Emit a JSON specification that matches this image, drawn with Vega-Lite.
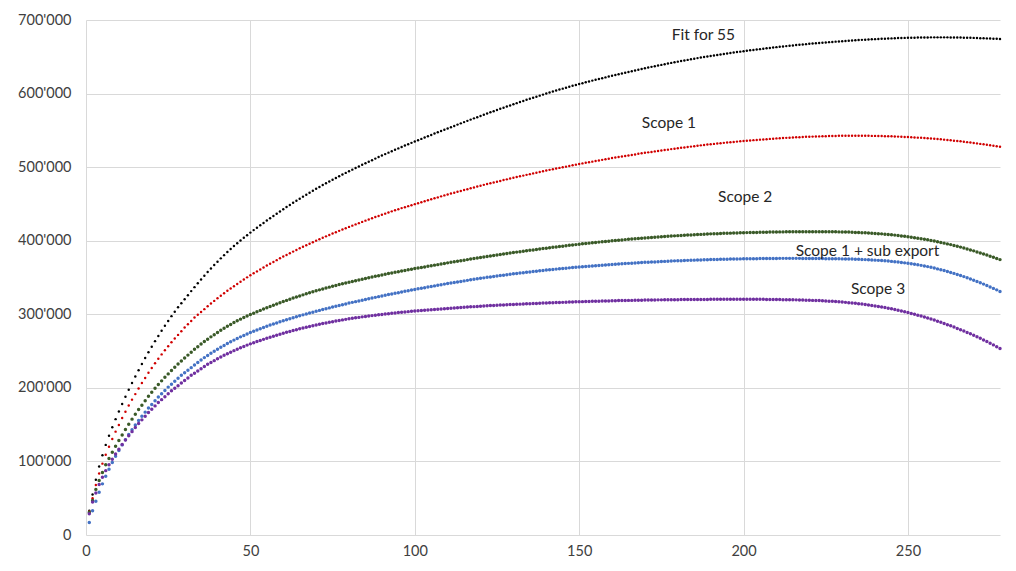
{
"$schema": "https://vega.github.io/schema/vega-lite/v6.json",
"width": 914, "height": 515,
"autosize": {"type": "none"},
"padding": {"left": 86, "top": 20, "right": 16, "bottom": 36},
"background": "white",
"config": {"view": {"stroke": null}, "font": "Lato",
 "axis": {"grid": true, "gridColor": "#d9d9d9", "gridWidth": 1, "domain": false, "ticks": false, "labelFont": "Lato", "labelFontSize": 14.5, "labelColor": "#404040", "title": null}},
"datasets": {
"labels": [
{"x":187.8,"y":680,"t":"Fit for 55"},
{"x":177.3,"y":560.5,"t":"Scope 1"},
{"x":200.5,"y":459.6,"t":"Scope 2"},
{"x":237.7,"y":385.7,"t":"Scope 1 + sub export"},
{"x":240.9,"y":334,"t":"Scope 3"}
],
"series": [
{"x":1,"fit":33,"s1":32,"s2":31,"sx":17,"s3":29},
{"x":2,"fit":55,"s1":50,"s2":47,"sx":33,"s3":45},
{"x":3,"fit":75,"s1":68,"s2":62,"sx":46,"s3":57},
{"x":4,"fit":93,"s1":83.5,"s2":74,"sx":58,"s3":68.5},
{"x":5,"fit":108.5,"s1":97,"s2":85,"sx":69.5,"s3":78.5},
{"x":6,"fit":122.5,"s1":109,"s2":95.5,"sx":80,"s3":87.5},
{"x":7,"fit":135,"s1":120,"s2":104,"sx":89.5,"s3":95.5},
{"x":8,"fit":146.5,"s1":130.5,"s2":112.5,"sx":98.5,"s3":103},
{"x":9,"fit":157.5,"s1":140.5,"s2":120.5,"sx":107,"s3":110},
{"x":10,"fit":168,"s1":149.5,"s2":128.5,"sx":115,"s3":116.5},
{"x":11,"fit":178,"s1":159,"s2":136,"sx":122.5,"s3":123},
{"x":12,"fit":188,"s1":167.5,"s2":143.5,"sx":129.5,"s3":129},
{"x":13,"fit":197.5,"s1":176,"s2":150.5,"sx":136.5,"s3":135},
{"x":14,"fit":206.5,"s1":184,"s2":157.5,"sx":143,"s3":140.5},
{"x":15,"fit":215.5,"s1":191.5,"s2":164,"sx":149.5,"s3":146},
{"x":16,"fit":224,"s1":199,"s2":170.5,"sx":155.5,"s3":151.5},
{"x":17,"fit":232.5,"s1":206.5,"s2":176.5,"sx":161.5,"s3":156.5},
{"x":18,"fit":240.5,"s1":213.5,"s2":182.5,"sx":167,"s3":161.5},
{"x":19,"fit":248.5,"s1":220.5,"s2":188.5,"sx":172.5,"s3":166.5},
{"x":20,"fit":256,"s1":227,"s2":194,"sx":177.5,"s3":171},
{"x":21,"fit":263.5,"s1":233.5,"s2":199.5,"sx":182.5,"s3":175.5},
{"x":22,"fit":270.5,"s1":239.5,"s2":204.5,"sx":187.5,"s3":180},
{"x":23,"fit":277.5,"s1":245.5,"s2":209.5,"sx":192,"s3":184},
{"x":24,"fit":284.5,"s1":251,"s2":214.5,"sx":196.5,"s3":188},
{"x":25,"fit":291,"s1":256.5,"s2":219,"sx":201,"s3":192},
{"x":26,"fit":297.5,"s1":262,"s2":223.5,"sx":205,"s3":196},
{"x":27,"fit":303.5,"s1":267,"s2":228,"sx":209,"s3":199.5},
{"x":28,"fit":309.5,"s1":272,"s2":232.5,"sx":213,"s3":203},
{"x":29,"fit":315,"s1":277,"s2":236.5,"sx":217,"s3":206.5},
{"x":30,"fit":320.5,"s1":282,"s2":240.5,"sx":220.5,"s3":210},
{"x":31,"fit":326,"s1":286.5,"s2":244.5,"sx":224,"s3":213.5},
{"x":32,"fit":331.5,"s1":291,"s2":248.5,"sx":227.5,"s3":217},
{"x":33,"fit":336.9,"s1":295.5,"s2":252.5,"sx":231,"s3":220},
{"x":34,"fit":342.2,"s1":299.3,"s2":256,"sx":234.5,"s3":223},
{"x":35,"fit":347.4,"s1":303.1,"s2":259.5,"sx":238,"s3":226},
{"x":36,"fit":352.5,"s1":307,"s2":262.9,"sx":241.1,"s3":229},
{"x":37,"fit":357.4,"s1":310.8,"s2":266.1,"sx":244,"s3":232},
{"x":38,"fit":362.2,"s1":314.6,"s2":269.3,"sx":246.9,"s3":234.5},
{"x":39,"fit":366.9,"s1":318.2,"s2":272.3,"sx":249.7,"s3":237},
{"x":40,"fit":371.5,"s1":321.8,"s2":275.3,"sx":252.5,"s3":239.5},
{"x":41,"fit":376,"s1":325.2,"s2":278.2,"sx":255.1,"s3":241.9},
{"x":42,"fit":380.4,"s1":328.6,"s2":280.9,"sx":257.7,"s3":244.2},
{"x":43,"fit":384.6,"s1":331.9,"s2":283.6,"sx":260.2,"s3":246.4},
{"x":44,"fit":388.7,"s1":335.1,"s2":286.2,"sx":262.6,"s3":248.5},
{"x":45,"fit":392.7,"s1":338.2,"s2":288.7,"sx":264.9,"s3":250.6},
{"x":46,"fit":396.6,"s1":341.3,"s2":291.1,"sx":267.1,"s3":252.6},
{"x":47,"fit":400.4,"s1":344.3,"s2":293.4,"sx":269.3,"s3":254.5},
{"x":48,"fit":404,"s1":347.3,"s2":295.5,"sx":271.3,"s3":256.3},
{"x":49,"fit":407.5,"s1":350.2,"s2":297.6,"sx":273.3,"s3":258.1},
{"x":50,"fit":411,"s1":353,"s2":299.6,"sx":275.2,"s3":259.8},
{"x":51,"fit":414.4,"s1":355.7,"s2":301.5,"sx":277,"s3":261.4},
{"x":52,"fit":417.7,"s1":358.3,"s2":303.4,"sx":278.7,"s3":262.9},
{"x":53,"fit":420.9,"s1":361,"s2":305.3,"sx":280.4,"s3":264.4},
{"x":54,"fit":424.2,"s1":363.6,"s2":307.1,"sx":282.1,"s3":265.9},
{"x":55,"fit":427.4,"s1":366.3,"s2":308.9,"sx":283.7,"s3":267.4},
{"x":56,"fit":430.5,"s1":368.7,"s2":310.7,"sx":285.3,"s3":268.8},
{"x":57,"fit":433.6,"s1":371.2,"s2":312.4,"sx":286.8,"s3":270.2},
{"x":58,"fit":436.7,"s1":373.6,"s2":314.1,"sx":288.3,"s3":271.6},
{"x":59,"fit":439.7,"s1":376.1,"s2":315.7,"sx":289.8,"s3":272.9},
{"x":60,"fit":442.7,"s1":378.5,"s2":317.4,"sx":291.2,"s3":274.2},
{"x":61,"fit":445.7,"s1":380.7,"s2":318.9,"sx":292.6,"s3":275.5},
{"x":62,"fit":448.6,"s1":383,"s2":320.5,"sx":294,"s3":276.7},
{"x":63,"fit":451.5,"s1":385.2,"s2":322,"sx":295.3,"s3":277.9},
{"x":64,"fit":454.3,"s1":387.5,"s2":323.5,"sx":296.6,"s3":279.1},
{"x":65,"fit":457.1,"s1":389.7,"s2":325,"sx":297.9,"s3":280.2},
{"x":66,"fit":459.9,"s1":391.8,"s2":326.4,"sx":299.2,"s3":281.3},
{"x":67,"fit":462.6,"s1":393.9,"s2":327.8,"sx":300.5,"s3":282.4},
{"x":68,"fit":465.3,"s1":396,"s2":329.2,"sx":301.7,"s3":283.5},
{"x":69,"fit":467.9,"s1":398,"s2":330.5,"sx":302.9,"s3":284.5},
{"x":70,"fit":470.5,"s1":400.1,"s2":331.9,"sx":304.1,"s3":285.5},
{"x":71,"fit":473.1,"s1":402,"s2":333.2,"sx":305.3,"s3":286.5},
{"x":72,"fit":475.6,"s1":404,"s2":334.4,"sx":306.4,"s3":287.4},
{"x":73,"fit":478.1,"s1":405.9,"s2":335.7,"sx":307.6,"s3":288.3},
{"x":74,"fit":480.5,"s1":407.9,"s2":336.9,"sx":308.7,"s3":289.2},
{"x":75,"fit":482.9,"s1":409.8,"s2":338.1,"sx":309.8,"s3":290},
{"x":76,"fit":485.3,"s1":411.6,"s2":339.2,"sx":310.9,"s3":290.8},
{"x":77,"fit":487.6,"s1":413.4,"s2":340.4,"sx":312,"s3":291.6},
{"x":78,"fit":489.9,"s1":415.2,"s2":341.5,"sx":313.1,"s3":292.4},
{"x":79,"fit":492.2,"s1":417,"s2":342.6,"sx":314.1,"s3":293.1},
{"x":80,"fit":494.4,"s1":418.8,"s2":343.6,"sx":315.2,"s3":293.8},
{"x":81,"fit":496.6,"s1":420.5,"s2":344.6,"sx":316.2,"s3":294.5},
{"x":82,"fit":498.8,"s1":422.2,"s2":345.7,"sx":317.2,"s3":295.2},
{"x":83,"fit":501,"s1":423.9,"s2":346.7,"sx":318.2,"s3":295.8},
{"x":84,"fit":503.2,"s1":425.6,"s2":347.7,"sx":319.2,"s3":296.5},
{"x":85,"fit":505.3,"s1":427.3,"s2":348.7,"sx":320.1,"s3":297.1},
{"x":86,"fit":507.4,"s1":428.9,"s2":349.6,"sx":321.1,"s3":297.6},
{"x":87,"fit":509.5,"s1":430.5,"s2":350.6,"sx":322.1,"s3":298.2},
{"x":88,"fit":511.6,"s1":432.1,"s2":351.6,"sx":323,"s3":298.8},
{"x":89,"fit":513.7,"s1":433.7,"s2":352.5,"sx":324,"s3":299.3},
{"x":90,"fit":515.7,"s1":435.3,"s2":353.5,"sx":325,"s3":299.8},
{"x":91,"fit":517.7,"s1":436.8,"s2":354.4,"sx":325.9,"s3":300.3},
{"x":92,"fit":519.7,"s1":438.3,"s2":355.3,"sx":326.8,"s3":300.8},
{"x":93,"fit":521.7,"s1":439.9,"s2":356.2,"sx":327.7,"s3":301.3},
{"x":94,"fit":523.6,"s1":441.4,"s2":357,"sx":328.5,"s3":301.8},
{"x":95,"fit":525.5,"s1":442.9,"s2":357.9,"sx":329.4,"s3":302.3},
{"x":96,"fit":527.4,"s1":444.3,"s2":358.8,"sx":330.3,"s3":302.7},
{"x":97,"fit":529.3,"s1":445.6,"s2":359.6,"sx":331.2,"s3":303.1},
{"x":98,"fit":531.2,"s1":447,"s2":360.4,"sx":332,"s3":303.6},
{"x":99,"fit":533,"s1":448.3,"s2":361.3,"sx":332.9,"s3":304},
{"x":100,"fit":534.8,"s1":449.7,"s2":362.1,"sx":333.8,"s3":304.4},
{"x":101,"fit":536.6,"s1":451,"s2":362.9,"sx":334.6,"s3":304.8},
{"x":102,"fit":538.4,"s1":452.3,"s2":363.6,"sx":335.4,"s3":305.2},
{"x":103,"fit":540.2,"s1":453.7,"s2":364.4,"sx":336.2,"s3":305.5},
{"x":104,"fit":542,"s1":455,"s2":365.2,"sx":337,"s3":305.9},
{"x":105,"fit":543.8,"s1":456.3,"s2":366,"sx":337.8,"s3":306.2},
{"x":106,"fit":545.6,"s1":457.6,"s2":366.8,"sx":338.6,"s3":306.6},
{"x":107,"fit":547.3,"s1":458.9,"s2":367.5,"sx":339.4,"s3":306.9},
{"x":108,"fit":549.1,"s1":460.3,"s2":368.3,"sx":340.2,"s3":307.3},
{"x":109,"fit":550.8,"s1":461.6,"s2":369.1,"sx":341,"s3":307.6},
{"x":110,"fit":552.6,"s1":462.9,"s2":369.9,"sx":341.8,"s3":308},
{"x":111,"fit":554.3,"s1":464.1,"s2":370.6,"sx":342.5,"s3":308.3},
{"x":112,"fit":556,"s1":465.3,"s2":371.4,"sx":343.3,"s3":308.6},
{"x":113,"fit":557.8,"s1":466.5,"s2":372.1,"sx":344,"s3":308.9},
{"x":114,"fit":559.5,"s1":467.7,"s2":372.8,"sx":344.7,"s3":309.2},
{"x":115,"fit":561.2,"s1":468.9,"s2":373.5,"sx":345.4,"s3":309.5},
{"x":116,"fit":562.9,"s1":470,"s2":374.3,"sx":346.1,"s3":309.8},
{"x":117,"fit":564.6,"s1":471.2,"s2":375,"sx":346.8,"s3":310.1},
{"x":118,"fit":566.3,"s1":472.4,"s2":375.7,"sx":347.5,"s3":310.4},
{"x":119,"fit":567.9,"s1":473.6,"s2":376.4,"sx":348.2,"s3":310.7},
{"x":120,"fit":569.6,"s1":474.8,"s2":377.2,"sx":348.9,"s3":311},
{"x":121,"fit":571.2,"s1":475.9,"s2":377.8,"sx":349.5,"s3":311.3},
{"x":122,"fit":572.9,"s1":477,"s2":378.5,"sx":350.2,"s3":311.5},
{"x":123,"fit":574.5,"s1":478,"s2":379.2,"sx":350.8,"s3":311.8},
{"x":124,"fit":576.1,"s1":479.1,"s2":379.9,"sx":351.4,"s3":312},
{"x":125,"fit":577.7,"s1":480.2,"s2":380.5,"sx":352,"s3":312.2},
{"x":126,"fit":579.3,"s1":481.3,"s2":381.2,"sx":352.6,"s3":312.5},
{"x":127,"fit":580.8,"s1":482.4,"s2":381.9,"sx":353.2,"s3":312.7},
{"x":128,"fit":582.4,"s1":483.4,"s2":382.5,"sx":353.8,"s3":313},
{"x":129,"fit":583.9,"s1":484.5,"s2":383.2,"sx":354.4,"s3":313.2},
{"x":130,"fit":585.5,"s1":485.6,"s2":383.9,"sx":355,"s3":313.4},
{"x":131,"fit":587,"s1":486.6,"s2":384.5,"sx":355.5,"s3":313.6},
{"x":132,"fit":588.5,"s1":487.6,"s2":385.1,"sx":356,"s3":313.8},
{"x":133,"fit":590,"s1":488.5,"s2":385.7,"sx":356.6,"s3":314},
{"x":134,"fit":591.5,"s1":489.5,"s2":386.3,"sx":357.1,"s3":314.2},
{"x":135,"fit":593,"s1":490.5,"s2":386.9,"sx":357.6,"s3":314.4},
{"x":136,"fit":594.4,"s1":491.5,"s2":387.5,"sx":358.1,"s3":314.6},
{"x":137,"fit":595.8,"s1":492.5,"s2":388.1,"sx":358.6,"s3":314.8},
{"x":138,"fit":597.2,"s1":493.4,"s2":388.7,"sx":359.1,"s3":315},
{"x":139,"fit":598.6,"s1":494.4,"s2":389.3,"sx":359.6,"s3":315.2},
{"x":140,"fit":600,"s1":495.4,"s2":389.9,"sx":360.1,"s3":315.4},
{"x":141,"fit":601.4,"s1":496.3,"s2":390.5,"sx":360.5,"s3":315.6},
{"x":142,"fit":602.7,"s1":497.2,"s2":391,"sx":360.9,"s3":315.7},
{"x":143,"fit":604.1,"s1":498.1,"s2":391.5,"sx":361.4,"s3":315.9},
{"x":144,"fit":605.4,"s1":499,"s2":392.1,"sx":361.8,"s3":316.1},
{"x":145,"fit":606.7,"s1":499.9,"s2":392.6,"sx":362.2,"s3":316.2},
{"x":146,"fit":608,"s1":500.7,"s2":393.1,"sx":362.6,"s3":316.4},
{"x":147,"fit":609.3,"s1":501.6,"s2":393.7,"sx":363.1,"s3":316.6},
{"x":148,"fit":610.5,"s1":502.5,"s2":394.2,"sx":363.5,"s3":316.7},
{"x":149,"fit":611.7,"s1":503.4,"s2":394.7,"sx":363.9,"s3":316.9},
{"x":150,"fit":612.9,"s1":504.3,"s2":395.3,"sx":364.3,"s3":317.1},
{"x":151,"fit":614.1,"s1":505.1,"s2":395.8,"sx":364.7,"s3":317.2},
{"x":152,"fit":615.3,"s1":505.9,"s2":396.2,"sx":365,"s3":317.3},
{"x":153,"fit":616.4,"s1":506.7,"s2":396.7,"sx":365.3,"s3":317.5},
{"x":154,"fit":617.6,"s1":507.5,"s2":397.2,"sx":365.7,"s3":317.6},
{"x":155,"fit":618.7,"s1":508.3,"s2":397.6,"sx":366,"s3":317.7},
{"x":156,"fit":619.8,"s1":509.1,"s2":398.1,"sx":366.4,"s3":317.8},
{"x":157,"fit":620.9,"s1":509.9,"s2":398.5,"sx":366.7,"s3":318},
{"x":158,"fit":622,"s1":510.7,"s2":399,"sx":367.1,"s3":318.1},
{"x":159,"fit":623.1,"s1":511.5,"s2":399.4,"sx":367.4,"s3":318.2},
{"x":160,"fit":624.2,"s1":512.3,"s2":399.9,"sx":367.8,"s3":318.4},
{"x":161,"fit":625.3,"s1":513,"s2":400.3,"sx":368.1,"s3":318.5},
{"x":162,"fit":626.3,"s1":513.7,"s2":400.7,"sx":368.3,"s3":318.6},
{"x":163,"fit":627.4,"s1":514.5,"s2":401.1,"sx":368.6,"s3":318.7},
{"x":164,"fit":628.4,"s1":515.2,"s2":401.5,"sx":368.9,"s3":318.8},
{"x":165,"fit":629.4,"s1":515.9,"s2":401.9,"sx":369.2,"s3":318.9},
{"x":166,"fit":630.4,"s1":516.6,"s2":402.2,"sx":369.5,"s3":318.9},
{"x":167,"fit":631.4,"s1":517.3,"s2":402.6,"sx":369.7,"s3":319},
{"x":168,"fit":632.4,"s1":518.1,"s2":403,"sx":370,"s3":319.1},
{"x":169,"fit":633.4,"s1":518.8,"s2":403.4,"sx":370.3,"s3":319.2},
{"x":170,"fit":634.4,"s1":519.5,"s2":403.8,"sx":370.6,"s3":319.3},
{"x":171,"fit":635.4,"s1":520.1,"s2":404.1,"sx":370.8,"s3":319.4},
{"x":172,"fit":636.3,"s1":520.7,"s2":404.5,"sx":371,"s3":319.4},
{"x":173,"fit":637.2,"s1":521.4,"s2":404.8,"sx":371.2,"s3":319.5},
{"x":174,"fit":638.1,"s1":522,"s2":405.1,"sx":371.5,"s3":319.6},
{"x":175,"fit":639,"s1":522.6,"s2":405.4,"sx":371.7,"s3":319.6},
{"x":176,"fit":639.9,"s1":523.2,"s2":405.7,"sx":371.9,"s3":319.7},
{"x":177,"fit":640.8,"s1":523.8,"s2":406,"sx":372.1,"s3":319.7},
{"x":178,"fit":641.7,"s1":524.5,"s2":406.3,"sx":372.3,"s3":319.8},
{"x":179,"fit":642.5,"s1":525.1,"s2":406.6,"sx":372.6,"s3":319.9},
{"x":180,"fit":643.4,"s1":525.7,"s2":406.9,"sx":372.8,"s3":319.9},
{"x":181,"fit":644.2,"s1":526.3,"s2":407.2,"sx":372.9,"s3":320},
{"x":182,"fit":645,"s1":526.8,"s2":407.4,"sx":373.1,"s3":320},
{"x":183,"fit":645.8,"s1":527.4,"s2":407.7,"sx":373.3,"s3":320},
{"x":184,"fit":646.6,"s1":527.9,"s2":407.9,"sx":373.4,"s3":320.1},
{"x":185,"fit":647.4,"s1":528.5,"s2":408.1,"sx":373.6,"s3":320.1},
{"x":186,"fit":648.2,"s1":529,"s2":408.4,"sx":373.8,"s3":320.1},
{"x":187,"fit":648.9,"s1":529.6,"s2":408.6,"sx":373.9,"s3":320.2},
{"x":188,"fit":649.7,"s1":530.1,"s2":408.8,"sx":374.1,"s3":320.2},
{"x":189,"fit":650.4,"s1":530.7,"s2":409,"sx":374.2,"s3":320.2},
{"x":190,"fit":651.1,"s1":531.2,"s2":409.3,"sx":374.4,"s3":320.3},
{"x":191,"fit":651.8,"s1":531.6,"s2":409.5,"sx":374.5,"s3":320.3},
{"x":192,"fit":652.5,"s1":532.1,"s2":409.6,"sx":374.6,"s3":320.3},
{"x":193,"fit":653.1,"s1":532.5,"s2":409.8,"sx":374.7,"s3":320.3},
{"x":194,"fit":653.8,"s1":533,"s2":410,"sx":374.8,"s3":320.3},
{"x":195,"fit":654.4,"s1":533.4,"s2":410.1,"sx":374.9,"s3":320.4},
{"x":196,"fit":655.1,"s1":533.8,"s2":410.3,"sx":375,"s3":320.4},
{"x":197,"fit":655.7,"s1":534.3,"s2":410.5,"sx":375.1,"s3":320.4},
{"x":198,"fit":656.4,"s1":534.7,"s2":410.6,"sx":375.2,"s3":320.4},
{"x":199,"fit":657,"s1":535.2,"s2":410.8,"sx":375.3,"s3":320.4},
{"x":200,"fit":657.6,"s1":535.6,"s2":410.9,"sx":375.4,"s3":320.4},
{"x":201,"fit":658.2,"s1":536,"s2":411,"sx":375.5,"s3":320.4},
{"x":202,"fit":658.8,"s1":536.3,"s2":411.1,"sx":375.5,"s3":320.4},
{"x":203,"fit":659.3,"s1":536.7,"s2":411.2,"sx":375.6,"s3":320.3},
{"x":204,"fit":659.9,"s1":537,"s2":411.3,"sx":375.6,"s3":320.3},
{"x":205,"fit":660.4,"s1":537.4,"s2":411.4,"sx":375.7,"s3":320.3},
{"x":206,"fit":661,"s1":537.7,"s2":411.5,"sx":375.7,"s3":320.3},
{"x":207,"fit":661.5,"s1":538,"s2":411.6,"sx":375.8,"s3":320.2},
{"x":208,"fit":662,"s1":538.4,"s2":411.7,"sx":375.8,"s3":320.2},
{"x":209,"fit":662.6,"s1":538.7,"s2":411.8,"sx":375.9,"s3":320.2},
{"x":210,"fit":663.1,"s1":539.1,"s2":411.9,"sx":375.9,"s3":320.1},
{"x":211,"fit":663.6,"s1":539.3,"s2":412,"sx":376,"s3":320},
{"x":212,"fit":664.1,"s1":539.6,"s2":412,"sx":376,"s3":319.9},
{"x":213,"fit":664.5,"s1":539.8,"s2":412.1,"sx":376,"s3":319.8},
{"x":214,"fit":665,"s1":540,"s2":412.1,"sx":376,"s3":319.8},
{"x":215,"fit":665.4,"s1":540.3,"s2":412.2,"sx":376,"s3":319.7},
{"x":216,"fit":665.9,"s1":540.5,"s2":412.2,"sx":376,"s3":319.6},
{"x":217,"fit":666.3,"s1":540.7,"s2":412.2,"sx":376,"s3":319.4},
{"x":218,"fit":666.8,"s1":540.9,"s2":412.3,"sx":375.9,"s3":319.3},
{"x":219,"fit":667.2,"s1":541.2,"s2":412.3,"sx":375.9,"s3":319.2},
{"x":220,"fit":667.6,"s1":541.4,"s2":412.3,"sx":375.9,"s3":319.1},
{"x":221,"fit":668,"s1":541.5,"s2":412.3,"sx":375.9,"s3":318.9},
{"x":222,"fit":668.4,"s1":541.7,"s2":412.3,"sx":375.8,"s3":318.8},
{"x":223,"fit":668.8,"s1":541.8,"s2":412.3,"sx":375.8,"s3":318.6},
{"x":224,"fit":669.1,"s1":541.9,"s2":412.3,"sx":375.7,"s3":318.3},
{"x":225,"fit":669.5,"s1":542.1,"s2":412.2,"sx":375.6,"s3":318.1},
{"x":226,"fit":669.9,"s1":542.2,"s2":412.2,"sx":375.6,"s3":317.8},
{"x":227,"fit":670.2,"s1":542.3,"s2":412.1,"sx":375.5,"s3":317.6},
{"x":228,"fit":670.6,"s1":542.4,"s2":412.1,"sx":375.4,"s3":317.3},
{"x":229,"fit":670.9,"s1":542.6,"s2":412,"sx":375.4,"s3":316.9},
{"x":230,"fit":671.2,"s1":542.7,"s2":411.9,"sx":375.3,"s3":316.6},
{"x":231,"fit":671.5,"s1":542.7,"s2":411.8,"sx":375.2,"s3":316.2},
{"x":232,"fit":671.8,"s1":542.7,"s2":411.7,"sx":375.1,"s3":315.8},
{"x":233,"fit":672.1,"s1":542.7,"s2":411.5,"sx":375,"s3":315.4},
{"x":234,"fit":672.4,"s1":542.7,"s2":411.3,"sx":374.8,"s3":314.9},
{"x":235,"fit":672.7,"s1":542.6,"s2":411.2,"sx":374.7,"s3":314.4},
{"x":236,"fit":673,"s1":542.6,"s2":410.9,"sx":374.5,"s3":313.9},
{"x":237,"fit":673.2,"s1":542.6,"s2":410.7,"sx":374.3,"s3":313.3},
{"x":238,"fit":673.5,"s1":542.6,"s2":410.5,"sx":374.1,"s3":312.7},
{"x":239,"fit":673.7,"s1":542.5,"s2":410.2,"sx":373.9,"s3":312},
{"x":240,"fit":674,"s1":542.5,"s2":409.9,"sx":373.6,"s3":311.4},
{"x":241,"fit":674.2,"s1":542.4,"s2":409.6,"sx":373.3,"s3":310.6},
{"x":242,"fit":674.4,"s1":542.3,"s2":409.3,"sx":373,"s3":309.9},
{"x":243,"fit":674.6,"s1":542.1,"s2":408.9,"sx":372.7,"s3":309.1},
{"x":244,"fit":674.8,"s1":542,"s2":408.5,"sx":372.3,"s3":308.2},
{"x":245,"fit":675,"s1":541.9,"s2":408,"sx":371.9,"s3":307.4},
{"x":246,"fit":675.2,"s1":541.7,"s2":407.6,"sx":371.5,"s3":306.4},
{"x":247,"fit":675.4,"s1":541.5,"s2":407.1,"sx":371,"s3":305.5},
{"x":248,"fit":675.5,"s1":541.3,"s2":406.5,"sx":370.5,"s3":304.5},
{"x":249,"fit":675.7,"s1":541.1,"s2":406,"sx":369.9,"s3":303.4},
{"x":250,"fit":675.8,"s1":540.9,"s2":405.4,"sx":369.4,"s3":302.4},
{"x":251,"fit":675.9,"s1":540.6,"s2":404.8,"sx":368.8,"s3":301.2},
{"x":252,"fit":676,"s1":540.4,"s2":404.1,"sx":368.1,"s3":300.1},
{"x":253,"fit":676.1,"s1":540.1,"s2":403.4,"sx":367.3,"s3":298.8},
{"x":254,"fit":676.2,"s1":539.9,"s2":402.7,"sx":366.5,"s3":297.6},
{"x":255,"fit":676.3,"s1":539.6,"s2":402,"sx":365.7,"s3":296.3},
{"x":256,"fit":676.3,"s1":539.2,"s2":401.2,"sx":364.8,"s3":294.9},
{"x":257,"fit":676.4,"s1":538.9,"s2":400.3,"sx":363.8,"s3":293.5},
{"x":258,"fit":676.4,"s1":538.5,"s2":399.5,"sx":362.8,"s3":292.1},
{"x":259,"fit":676.4,"s1":538.2,"s2":398.6,"sx":361.7,"s3":290.6},
{"x":260,"fit":676.4,"s1":537.8,"s2":397.7,"sx":360.6,"s3":289.1},
{"x":261,"fit":676.4,"s1":537.4,"s2":396.7,"sx":359.4,"s3":287.6},
{"x":262,"fit":676.4,"s1":536.9,"s2":395.7,"sx":358.2,"s3":285.9},
{"x":263,"fit":676.3,"s1":536.5,"s2":394.7,"sx":356.9,"s3":284.3},
{"x":264,"fit":676.3,"s1":536,"s2":393.6,"sx":355.6,"s3":282.6},
{"x":265,"fit":676.2,"s1":535.6,"s2":392.5,"sx":354.2,"s3":280.8},
{"x":266,"fit":676.1,"s1":535.1,"s2":391.3,"sx":352.7,"s3":279},
{"x":267,"fit":676,"s1":534.5,"s2":390.1,"sx":351.2,"s3":277.2},
{"x":268,"fit":675.9,"s1":534,"s2":388.8,"sx":349.6,"s3":275.3},
{"x":269,"fit":675.8,"s1":533.4,"s2":387.5,"sx":348,"s3":273.4},
{"x":270,"fit":675.7,"s1":532.9,"s2":386.2,"sx":346.3,"s3":271.4},
{"x":271,"fit":675.5,"s1":532.3,"s2":384.8,"sx":344.6,"s3":269.4},
{"x":272,"fit":675.3,"s1":531.6,"s2":383.4,"sx":342.8,"s3":267.3},
{"x":273,"fit":675.2,"s1":531,"s2":382,"sx":341,"s3":265.1},
{"x":274,"fit":675,"s1":530.4,"s2":380.5,"sx":339.1,"s3":262.9},
{"x":275,"fit":674.8,"s1":529.8,"s2":379,"sx":337.2,"s3":260.7},
{"x":276,"fit":674.6,"s1":529.1,"s2":377.5,"sx":335.2,"s3":258.4},
{"x":277,"fit":674.4,"s1":528.3,"s2":375.9,"sx":333.2,"s3":256},
{"x":278,"fit":674.2,"s1":527.6,"s2":374.3,"sx":331.1,"s3":253.6}
]},
"encoding": {
 "x": {"field": "x", "type": "quantitative", "scale": {"domain": [0, 278], "nice": false, "zero": false},
  "axis": {"values": [0, 50, 100, 150, 200, 250], "labelPadding": 9, "labelFlush": false}}
},
"layer": [
 {"data": {"name": "series"}, "mark": {"type": "point", "shape": "circle", "filled": true, "opacity": 1, "size": 6, "color": "#000000"},
  "encoding": {"y": {"field": "fit", "type": "quantitative", "scale": {"domain": [0, 700], "nice": false},
   "axis": {"values": [0, 100, 200, 300, 400, 500, 600, 700], "labelPadding": 15, "labelExpr": "datum.value == 0 ? '0' : datum.value + \"'000\""}}}},
 {"data": {"name": "series"}, "mark": {"type": "point", "shape": "circle", "filled": true, "opacity": 1, "size": 6, "color": "#d00000"},
  "encoding": {"y": {"field": "s1", "type": "quantitative"}}},
 {"data": {"name": "series"}, "mark": {"type": "point", "shape": "circle", "filled": true, "opacity": 1, "size": 12, "color": "#3a5a28"},
  "encoding": {"y": {"field": "s2", "type": "quantitative"}}},
 {"data": {"name": "series"}, "mark": {"type": "point", "shape": "circle", "filled": true, "opacity": 1, "size": 12, "color": "#4472c4"},
  "encoding": {"y": {"field": "sx", "type": "quantitative"}}},
 {"data": {"name": "series"}, "mark": {"type": "point", "shape": "circle", "filled": true, "opacity": 1, "size": 12, "color": "#7030a0"},
  "encoding": {"y": {"field": "s3", "type": "quantitative"}}},
 {"data": {"name": "labels"}, "mark": {"type": "text", "font": "Lato", "fontSize": 15.5, "color": "#262626", "align": "center", "baseline": "middle"},
  "encoding": {"y": {"field": "y", "type": "quantitative"}, "text": {"field": "t"}}}
]
}
